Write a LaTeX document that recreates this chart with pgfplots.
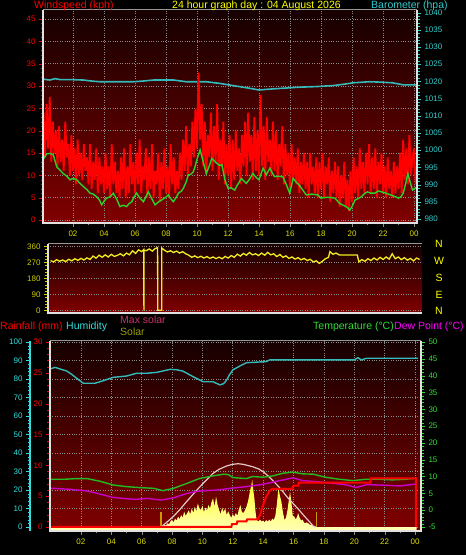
\documentclass[border=0pt]{standalone}
\usepackage{pgfplots}
\pgfplotsset{compat=1.18}
\usepackage{fontspec}
\setmainfont{Liberation Sans}
\definecolor{cRed}{RGB}{255,0,0}
\definecolor{cTitleY}{RGB}{255,255,0}
\definecolor{cBaro}{RGB}{51,204,204}
\definecolor{cBaroL}{RGB}{51,187,187}
\definecolor{cAvg}{RGB}{40,210,40}
\definecolor{cXlab}{RGB}{221,221,0}
\definecolor{cDir}{RGB}{238,238,34}
\definecolor{cDirLab}{RGB}{204,204,0}
\definecolor{cHum}{RGB}{51,221,221}
\definecolor{cHumL}{RGB}{51,187,187}
\definecolor{cTemp}{RGB}{51,221,51}
\definecolor{cTempL}{RGB}{34,187,34}
\definecolor{cDew}{RGB}{255,0,255}
\definecolor{cDewL}{RGB}{204,0,204}
\definecolor{cMaxS}{RGB}{204,51,102}
\definecolor{cMaxSL}{RGB}{228,200,200}
\definecolor{cSolar}{RGB}{153,153,0}
\definecolor{cSun}{RGB}{204,153,0}
\definecolor{bgTop}{RGB}{22,0,0}
\definecolor{bgBot}{RGB}{128,0,0}
\definecolor{cGrid}{RGB}{140,140,140}
\definecolor{cFrameTop}{RGB}{150,150,150}
\definecolor{cFrame}{RGB}{225,225,225}
\definecolor{solTop}{RGB}{255,255,30}
\definecolor{solBot}{RGB}{255,255,190}

\pgfplotsset{
  base/.style={scale only axis, anchor=south west, axis line style={draw=none},
    tick label style={font=\fontsize{8}{9}\selectfont},
    /pgf/number format/1000 sep={}, /pgf/number format/assume math mode=true,
    tick align=outside, major tick length=4pt, minor tick length=2.5pt},
  bg/.style={axis background/.style={shade, top color=bgTop, bottom color=bgBot}},
  grd/.style={grid=major, major grid style={cGrid, line width=0.6pt, dash pattern=on 0.8pt off 1.6pt}},
}

\begin{document}
\begin{tikzpicture}
\useasboundingbox (0pt,0pt) rectangle (466pt,555pt);
\fill[black] (0pt,0pt) rectangle (466pt,555pt);

% ================= PANEL 1 : wind + barometer =================
\begin{axis}[base, bg, grd, at={(43pt,332pt)}, width=374pt, height=213pt,
  xmin=0.065, xmax=24.19, ymin=-0.67, ymax=47,
  xtick={2,4,...,24}, xticklabels={02,04,06,08,10,12,14,16,18,20,22,00},
  xticklabel style={cXlab}, minor x tick num=1, x tick style={cGrid}, xtick pos=bottom,
  ytick={0,5,...,45}, minor y tick num=4, ytick pos=left,
  yticklabel style={cRed}, y tick style={cRed}]
\addplot[draw=none] coordinates {(1,1)};
\end{axis}

\begin{axis}[base, at={(43pt,332pt)}, width=374pt, height=213pt,
  xmin=0.065, xmax=24.19, ymin=978.84, ymax=1040.76,
  hide x axis, axis y line*=right, ytick={980,985,...,1040}, minor y tick num=4,
  yticklabel style={cBaro}, y tick style={cBaro}]
\addplot[cBaroL, line width=1.6pt] coordinates {
(0.0,1020.7)(0.5,1020.4)(0.84,1020.8)(1.2,1020.5)(2.0,1020.5)(2.67,1020.4)(3.2,1020.1)(3.74,1019.9)
(5.0,1019.9)(5.9,1019.9)(6.5,1020.1)(7.2,1020.4)(8.5,1020.4)(9.3,1019.9)(10.6,1019.9)(11.5,1019.4)
(12.3,1018.8)(13.4,1018.0)(14.0,1017.5)(14.5,1017.7)(15.5,1018.0)(16.5,1018.3)(17.7,1018.5)
(18.8,1018.8)(19.5,1019.2)(20.1,1019.6)(21.1,1019.9)(21.8,1019.8)(22.6,1019.6)(23.3,1019.0)(24.15,1019.0)};
\end{axis}

\begin{axis}[base, at={(43pt,332pt)}, width=374pt, height=213pt,
  xmin=0.065, xmax=24.19, ymin=-0.67, ymax=47, hide axis]
\addplot[cRed, line width=1.8pt, line join=bevel] coordinates {
(0.0,18)(0.1,24)(0.2,14)(0.3,26)(0.4,16)(0.5,27.5)(0.6,13)(0.7,22)(0.8,15)(0.9,20)
(1.0,12)(1.1,21)(1.2,13)(1.3,18)(1.4,11)(1.5,22)(1.6,14)(1.7,17)(1.8,10)(1.9,19)
(2.0,11)(2.1,16)(2.2,8)(2.3,18)(2.4,10)(2.5,15)(2.6,9)(2.7,17)(2.8,11)(2.9,14)
(3.0,8)(3.1,17)(3.2,7)(3.3,13)(3.4,9)(3.5,16)(3.6,6)(3.7,14)(3.8,8)(3.9,12)
(4.0,6)(4.1,15)(4.2,7)(4.3,12)(4.4,5)(4.5,17)(4.6,8)(4.7,13)(4.8,6)(4.9,11)
(5.0,5)(5.1,14)(5.2,7)(5.3,16)(5.4,5)(5.5,12)(5.6,6)(5.7,17)(5.8,8)(5.9,13)
(6.0,6)(6.1,15)(6.2,8)(6.3,18)(6.4,6)(6.5,12)(6.6,9)(6.7,16)(6.8,5)(6.9,14)
(7.0,7)(7.1,17)(7.2,5)(7.3,11)(7.4,8)(7.5,15)(7.6,4)(7.7,13)(7.8,7)(7.9,16)
(8.0,6)(8.1,12)(8.2,5)(8.3,17)(8.4,8)(8.5,14)(8.6,6)(8.7,11)(8.8,7)(8.9,15)
(9.0,9)(9.1,18)(9.2,11)(9.3,21)(9.4,10)(9.5,17)(9.6,12)(9.7,22)(9.8,14)(9.9,25)
(10.0,16)(10.1,33)(10.2,18)(10.3,26)(10.4,12)(10.5,22)(10.6,10)(10.7,19)(10.8,14)(10.9,24)
(11.0,11)(11.1,21)(11.2,13)(11.3,26)(11.4,9)(11.5,18)(11.6,12)(11.7,22)(11.8,8)(11.9,17)
(12.0,10)(12.1,19)(12.2,7)(12.3,18)(12.4,9)(12.5,20)(12.6,11)(12.7,16)(12.8,8)(12.9,19)
(13.0,12)(13.1,22)(13.2,10)(13.3,24)(13.4,13)(13.5,19)(13.6,9)(13.7,23)(13.8,11)(13.9,20)
(14.0,10)(14.1,28)(14.2,12)(14.3,21)(14.4,9)(14.5,23)(14.6,13)(14.7,18)(14.8,10)(14.9,22)
(15.0,11)(15.1,20)(15.2,9)(15.3,17)(15.4,12)(15.5,21)(15.6,8)(15.7,17)(15.8,10)(15.9,15)
(16.0,7)(16.1,17)(16.2,9)(16.3,14)(16.4,8)(16.5,16)(16.6,6)(16.7,13)(16.8,8)(16.9,15)
(17.0,7)(17.1,13)(17.2,5)(17.3,15)(17.4,8)(17.5,12)(17.6,6)(17.7,14)(17.8,5)(17.9,13)
(18.0,7)(18.1,15)(18.2,5)(18.3,12)(18.4,8)(18.5,14)(18.6,4)(18.7,11)(18.8,6)(18.9,13)
(19.0,5)(19.1,12)(19.2,3)(19.3,10)(19.4,5)(19.5,13)(19.6,3)(19.7,9)(19.8,2)(19.9,11)
(20.0,4)(20.1,14)(20.2,6)(20.3,12)(20.4,5)(20.5,16)(20.6,7)(20.7,13)(20.8,6)(20.9,15)
(21.0,8)(21.1,17)(21.2,6)(21.3,14)(21.4,7)(21.5,16)(21.6,5)(21.7,13)(21.8,8)(21.9,15)
(22.0,6)(22.1,12)(22.2,5)(22.3,14)(22.4,7)(22.5,11)(22.6,5)(22.7,13)(22.8,6)(22.9,12)
(23.0,7)(23.1,15)(23.2,6)(23.3,18)(23.4,9)(23.5,16)(23.6,8)(23.7,19)(23.8,10)(23.9,14)
(24.0,16)(24.1,8)(24.2,12)};
\addplot[cAvg, line width=1.4pt] coordinates {
(0.0,13.6)(0.13,13.8)(0.3,14.8)(0.52,14.9)(0.73,14.6)(0.95,11.9)(1.15,11.2)(1.37,10.4)(1.6,9.8)(1.8,9.0)
(2.0,9.3)(2.24,9.0)(2.45,8.2)(2.67,7.5)(2.9,6.8)(3.1,6.0)(3.3,5.8)(3.53,5.2)(3.7,4.5)(3.85,3.4)
(4.0,4.2)(4.17,4.9)(4.4,5.2)(4.6,6.0)(4.8,4.8)(5.03,3.0)(5.25,3.3)(5.46,3.0)(5.6,3.6)(5.79,4.1)
(5.95,5.2)(6.1,6.0)(6.3,5.0)(6.54,4.1)(6.7,5.2)(6.86,6.3)(7.05,5.0)(7.29,3.4)(7.5,4.0)(7.72,4.5)
(7.95,5.0)(8.15,5.6)(8.3,4.8)(8.47,4.1)(8.65,5.0)(8.8,6.0)(9.0,6.5)(9.12,7.1)(9.3,8.5)(9.44,10.1)
(9.6,10.2)(9.76,10.8)(9.88,12.0)(9.98,13.4)(10.2,15.7)(10.4,13.0)(10.6,10.4)(10.8,12.2)(10.95,13.8)
(11.1,13.3)(11.27,12.7)(11.45,12.2)(11.6,12.4)(11.8,9.0)(12.0,7.1)(12.2,7.2)(12.43,6.7)(12.6,7.8)
(12.86,9.3)(13.0,8.8)(13.18,8.2)(13.4,9.2)(13.6,10.4)(13.8,9.6)(14.0,9.0)(14.26,11.6)(14.47,10.1)
(14.69,11.6)(14.85,10.6)(15.0,9.7)(15.3,9.8)(15.55,9.6)(15.75,8.0)(15.98,6.0)(16.2,9.3)(16.4,8.5)
(16.6,7.8)(16.8,6.8)(17.05,5.6)(17.4,5.8)(17.8,5.6)(18.0,4.9)(18.4,5.1)(18.9,4.9)(19.2,3.7)
(19.5,3.2)(19.7,2.8)(19.85,2.2)(20.0,3.0)(20.2,4.5)(20.4,4.8)(20.6,5.2)(20.8,5.9)(21.0,6.3)
(21.2,6.0)(21.47,6.0)(21.7,6.5)(21.9,6.3)(22.2,6.0)(22.5,5.6)(22.8,5.2)(23.0,4.9)(23.15,5.2)
(23.3,6.0)(23.45,8.0)(23.6,10.4)(23.75,8.5)(23.9,6.7)(24.1,7.2)(24.25,7.5)};
\end{axis}

% ================= PANEL 2 : wind direction =================
\begin{axis}[base, bg, at={(48pt,242pt)}, width=374pt, height=69pt,
  xmin=-0.165, xmax=24.46, ymin=-15.2, ymax=373,
  ytick={0,90,180,270,360}, minor y tick num=4, ytick pos=left,
  yticklabel style={cDirLab}, y tick style={cDirLab}, xtick=\empty,
  ymajorgrids, major grid style={cGrid, line width=0.6pt, dash pattern=on 0.8pt off 1.6pt}]
\addplot[cDir, line width=1.3pt] coordinates {
(0.0,280)(0.2,272)(0.4,285)(0.6,276)(0.8,283)(1.0,274)(1.2,287)(1.4,278)(1.6,290)(1.8,281)
(2.0,292)(2.2,283)(2.4,295)(2.6,286)(2.8,305)(3.0,293)(3.2,310)(3.4,298)(3.6,312)(3.8,300)
(4.0,315)(4.2,303)(4.4,309)(4.6,318)(4.8,306)(5.0,322)(5.2,312)(5.4,335)(5.6,320)(5.8,340)
(6.0,330)(6.14,342)(6.15,0)(6.16,338)(6.3,335)(6.5,345)(6.7,333)(6.9,348)(7.05,352)(7.06,0)
(7.32,0)(7.33,350)(7.5,338)(7.7,328)(7.9,335)(8.1,325)(8.3,333)(8.5,322)(8.7,330)(8.9,318)
(9.1,310)(9.3,298)(9.5,306)(9.7,296)(9.9,304)(10.1,294)(10.3,302)(10.5,292)(10.7,300)(10.9,291)
(11.1,299)(11.3,290)(11.5,303)(11.7,294)(11.9,308)(12.1,298)(12.3,316)(12.5,305)(12.7,320)(12.9,310)
(13.1,325)(13.3,312)(13.5,318)(13.7,308)(13.9,322)(14.1,310)(14.3,326)(14.5,312)(14.7,318)(14.9,302)
(15.1,314)(15.3,298)(15.5,306)(15.7,292)(15.9,300)(16.1,288)(16.3,296)(16.5,284)(16.7,292)(16.9,280)
(17.1,287)(17.3,272)(17.5,278)(17.7,264)(17.9,276)(18.1,290)(18.3,298)(18.4,330)(18.6,315)(18.8,322)
(19.0,312)(19.1,311)(20.2,311)(20.3,272)(20.5,285)(20.7,276)(20.9,290)(21.1,280)(21.3,294)(21.5,283)
(21.7,298)(21.9,286)(22.1,300)(22.3,288)(22.5,318)(22.7,290)(22.9,300)(23.1,285)(23.3,296)(23.5,282)
(23.7,292)(23.9,278)(24.1,294)(24.3,286)};
\end{axis}

% ================= PANEL 3 : rain / humidity / solar / temperature =================
\begin{axis}[base, bg, grd, at={(50pt,24pt)}, width=371pt, height=190pt,
  xmin=-0.033, xmax=24.39, ymin=-2.16, ymax=100.54,
  xtick={2,4,...,24}, xticklabels={02,04,06,08,10,12,14,16,18,20,22,00},
  xticklabel style={cXlab}, minor x tick num=1, x tick style={cGrid}, xtick pos=bottom,
  ytick={0,10,...,100}, yticklabels={}, y tick style={draw=none}, ytick pos=left]
\addplot[draw=none, top color=solTop, middle color=solTop, bottom color=solBot] coordinates {
(0,-3)(0,0)(7.27,0)(7.4,0.5)(7.5,1.2)(7.6,0.8)(7.7,2.0)(7.8,1.5)(7.9,3.0)(8.0,3.8)(8.1,2.5)(8.2,4.5)
(8.3,3.5)(8.4,5.6)(8.5,4.2)(8.6,6.5)(8.7,5.0)(8.8,8.3)(8.9,6.0)(9.0,7.5)(9.1,9.0)(9.2,6.8)(9.3,10.1)
(9.4,7.5)(9.5,11.0)(9.6,8.5)(9.7,12.8)(9.8,10.0)(9.9,9.2)(10.0,11.5)(10.1,8.0)(10.2,10.5)(10.3,9.0)
(10.4,11.9)(10.5,10.0)(10.6,13.5)(10.7,15.5)(10.8,11.0)(10.9,16.4)(11.0,12.0)(11.1,9.2)(11.2,7.0)
(11.3,10.5)(11.4,8.0)(11.5,10.1)(11.6,6.5)(11.7,8.5)(11.8,6.5)(11.9,5.0)(12.0,7.0)(12.1,5.5)(12.2,7.6)
(12.3,6.0)(12.4,9.5)(12.5,11.9)(12.6,8.0)(12.7,7.6)(12.8,9.0)(12.9,11.0)(13.0,13.7)(13.1,18.0)(13.2,22.0)
(13.28,25.4)(13.35,20.0)(13.42,15.5)(13.5,8.0)(13.57,3.8)(13.7,3.0)(13.8,4.0)(13.9,2.9)(14.0,3.5)
(14.1,2.5)(14.2,3.8)(14.3,2.9)(14.4,4.0)(14.5,3.0)(14.6,4.5)(14.7,3.8)(14.8,6.0)(14.9,12.0)(15.0,20.9)
(15.1,17.0)(15.2,13.7)(15.3,8.0)(15.4,3.8)(15.5,5.0)(15.6,9.0)(15.7,15.0)(15.77,19.1)(15.85,14.0)
(15.95,6.0)(16.05,5.6)(16.15,4.0)(16.25,6.0)(16.3,7.6)(16.4,5.0)(16.5,3.5)(16.6,4.0)(16.65,2.9)
(16.75,2.0)(16.85,2.5)(16.97,2.0)(17.1,1.0)(17.2,1.5)(17.3,0.5)(17.4,0.2)(17.5,0)(24.1,0)(24.1,-3)} -- cycle;
\addplot[cSun, line width=1.5pt] coordinates {(7.27,0)(7.27,8)};
\addplot[cSun, line width=1.5pt] coordinates {(17.5,0)(17.5,8)};
\addplot[cMaxSL, line width=1.2pt] coordinates {
(7.27,0)(7.6,2.2)(8.08,5.6)(8.5,9.3)(8.96,13.7)(9.4,17.8)(9.84,21.8)(10.3,25.7)(10.7,29)(11.1,31.2)
(11.6,33)(12.0,33.9)(12.35,34.2)(12.67,33.9)(13.3,32.6)(13.7,31.4)(14.0,29.9)(14.3,27.8)(14.6,25.4)
(15.0,22.0)(15.3,19.1)(15.6,16.0)(15.96,12.8)(16.3,9.8)(16.6,6.9)(17.0,3.3)(17.3,0.5)(17.45,0)};
\addplot[cHumL, line width=1.4pt] coordinates {
(0.0,85.5)(0.3,86.3)(0.6,85.5)(1.07,84.3)(1.4,82.5)(1.72,80.4)(2.16,77.7)(2.93,77.7)(3.48,79.1)
(4.13,80.9)(5.0,81.6)(5.67,83.1)(6.33,83.1)(7.0,83.6)(7.87,85.2)(8.3,85.0)(8.7,84.3)(9.0,83.0)
(9.4,81.2)(10.06,78.5)(10.7,78.5)(11.16,76.8)(11.4,77.5)(11.6,79.5)(11.8,82.5)(12.0,84.9)(12.46,87.0)
(12.9,88.8)(14.2,89.4)(14.43,90.3)(20.0,90.3)(20.24,91.5)(20.46,90.3)(20.8,91.2)(24.2,91.2)};
\end{axis}

\begin{axis}[base, at={(50pt,24pt)}, width=371pt, height=190pt,
  xmin=-0.033, xmax=24.39, ymin=-6.19, ymax=50.3,
  hide x axis, axis y line*=right, ytick={-5,0,...,50}, minor y tick num=4,
  yticklabel style={cTemp}, y tick style={cTemp}]
\addplot[cTempL, line width=1.4pt] coordinates {
(0.0,9.2)(0.19,9.2)(1.0,9.2)(1.72,9.4)(2.4,9.4)(3.26,8.6)(4.1,7.5)(5.0,7.0)(5.9,6.7)(6.8,6.5)
(7.4,5.8)(8.1,6.5)(9.0,8.0)(9.8,9.4)(10.7,10.2)(11.4,10.7)(11.7,10.6)(12.0,9.7)(12.9,9.4)(13.3,10.0)
(14.0,9.8)(14.65,10.2)(15.3,11.0)(15.96,11.3)(16.6,10.8)(17.3,10.7)(18.1,9.8)(19.0,9.2)(19.9,8.8)
(20.8,9.2)(21.7,9.2)(22.5,9.0)(23.4,9.2)(24.1,9.5)};
\addplot[cDewL, line width=1.4pt] coordinates {
(0.0,6.5)(0.19,6.5)(1.3,6.2)(2.4,5.7)(3.26,4.8)(4.1,3.8)(5.5,3.2)(6.4,3.5)(7.3,3.0)(8.1,3.7)
(9.0,5.0)(9.8,5.7)(11.0,6.0)(12.0,6.6)(12.9,7.0)(14.0,7.7)(15.3,9.0)(15.96,9.6)(16.6,8.8)(17.7,8.4)
(19.0,7.8)(19.6,7.4)(20.1,6.7)(20.5,7.2)(20.8,7.6)(22.1,7.4)(23.0,7.2)(24.1,7.8)};
\end{axis}

\begin{axis}[base, at={(50pt,24pt)}, width=371pt, height=190pt,
  xmin=-0.033, xmax=24.39, ymin=-0.65, ymax=30.16,
  hide x axis, axis y line*=left, ytick={0,5,...,30}, minor y tick num=4,
  yticklabel style={cRed}, y tick style={cRed}]
\addplot[cRed, line width=2pt] coordinates {
(0,0)(11.9,0)(11.95,0.45)(12.25,0.45)(12.3,0.9)(12.9,0.9)(12.95,1.25)(13.65,1.25)(13.8,2.0)(14.0,3.6)
(14.2,4.9)(14.4,5.8)(14.6,6.2)(15.9,6.2)(16.0,6.7)(16.3,6.7)(16.35,7.2)(21.05,7.2)(21.1,7.9)(24.05,7.9)(24.05,0)};
\end{axis}

\begin{axis}[base, at={(30pt,24pt)}, width=1pt, height=190pt,
  xmin=0, xmax=1, ymin=-2.16, ymax=100.54,
  hide x axis, axis y line*=left, ytick={0,10,...,100}, minor y tick num=4,
  yticklabel style={cHum}, y tick style={cHum}]
\addplot[draw=none] coordinates {(0.5,50)};
\end{axis}
\draw[cHum, line width=2pt] (30pt,24pt) -- (30pt,214pt);

% frames
\draw[cFrameTop, line width=1pt] (43pt,545pt) -- (417pt,545pt);
\draw[cFrame, line width=1.5pt] (43pt,545pt) -- (43pt,332pt) -- (417pt,332pt) -- (417pt,545pt);
\draw[cFrameTop, line width=1pt] (48pt,311pt) -- (422pt,311pt);
\draw[cFrame, line width=1.5pt] (48pt,311pt) -- (48pt,242pt) -- (422pt,242pt);
\draw[cFrameTop, line width=1pt] (50pt,214pt) -- (421pt,214pt);
\draw[cFrame, line width=1.5pt] (50pt,214pt) -- (50pt,24pt) -- (421pt,24pt) -- (421pt,214pt);

% titles
\begin{scope}[every node/.style={anchor=west, inner sep=0pt, font=\fontsize{10.5}{12}\selectfont}]
\node[text=cRed] at (34pt,549.5pt) {Windspeed (kph)};
\node[text=cTitleY] at (172pt,549.5pt) {24 hour graph day : 04 August 2026};
\node[text=cBaro] at (371pt,549.5pt) {Barometer (hpa)};
\node[text=cRed] at (0pt,228.3pt) {Rainfall (mm)};
\node[text=cHum] at (66pt,228.3pt) {Humidity};
\node[text=cMaxS] at (120pt,235pt) {Max solar};
\node[text=cSolar] at (120pt,223pt) {Solar};
\node[text=cTemp] at (313pt,228.3pt) {Temperature (°C)};
\node[text=cDew] at (394pt,228.3pt) {Dew Point (°C)};
\end{scope}
\begin{scope}[every node/.style={anchor=center, inner sep=0pt, text=cTitleY, font=\fontsize{10.5}{12}\selectfont}]
\node at (439pt,311pt) {N};
\node at (439pt,294pt) {W};
\node at (439pt,277pt) {S};
\node at (439pt,260pt) {E};
\node at (439pt,244pt) {N};
\end{scope}
\end{tikzpicture}
\end{document}
